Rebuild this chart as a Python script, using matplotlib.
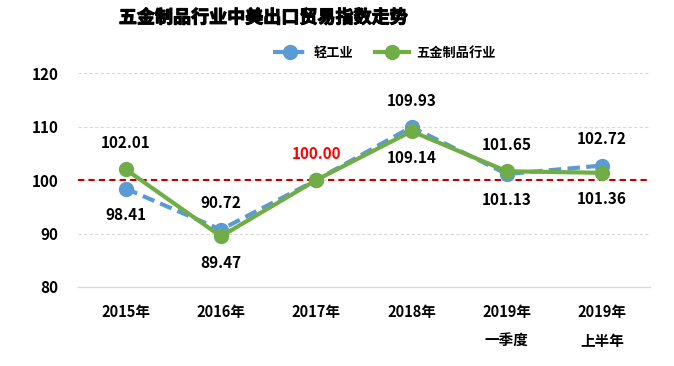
import matplotlib
matplotlib.use('Agg')
import matplotlib.pyplot as plt
import matplotlib.patheffects as pe

plt.rcParams['font.family'] = ['Noto Sans CJK SC', 'DejaVu Sans']
plt.rcParams['font.weight'] = 'bold'

categories = ['2015年', '2016年', '2017年', '2018年', '2019年\n一季度', '2019年\n上半年']
light = [98.41, 90.72, 100.00, 109.93, 101.13, 102.72]
hardware = [102.01, 89.47, 100.00, 109.14, 101.65, 101.36]
yticks = [80, 90, 100, 110, 120]

fig = plt.figure(figsize=(6.74, 3.66), dpi=100)
ax = fig.add_axes([0.1157, 0.216, 0.8483, 0.584])

x = list(range(len(categories)))
ax.plot(x, light, color='#5B9BD5', lw=3, ls=(0, (3, 1.5)), marker='o', ms=10,
        label='轻工业', zorder=3)
ax.plot(x, hardware, color='#70AD47', lw=3, marker='o', ms=10,
        label='五金制品行业', zorder=4)
ax.axhline(100, color='#C00000', lw=1.5, ls=(0, (3, 2)), zorder=2)

# data labels: higher value above, lower below
for i in x:
    a, b = light[i], hardware[i]
    if a == b:
        ax.annotate('%.2f' % a, (i, a), xytext=(0, 19), textcoords='offset points',
                    ha='center', va='center', fontsize=11, fontweight='bold', color='#FF0000')
        continue
    hi, lo = max(a, b), min(a, b)
    ax.annotate('%.2f' % hi, (i, hi), xytext=(0, 19), textcoords='offset points',
                ha='center', va='center', fontsize=11, fontweight='bold')
    ax.annotate('%.2f' % lo, (i, lo), xytext=(0, -19), textcoords='offset points',
                ha='center', va='center', fontsize=11, fontweight='bold')

ax.set_xlim(-0.5, len(categories) - 0.5)
ax.set_ylim(80, 120)
ax.set_yticks(yticks)
ax.set_xticks(x)
ax.set_xticklabels(categories, fontsize=10.5, fontweight='bold', linespacing=2.0)
ax.tick_params(axis='x', length=0, pad=12)
ax.tick_params(axis='y', length=0, pad=14, labelsize=11)
for lab in ax.get_yticklabels():
    lab.set_fontweight('bold')

ax.grid(axis='y', color='#D9D9D9', ls=(0, (3, 2)), lw=0.8)
for s in ['top', 'right', 'left']:
    ax.spines[s].set_visible(False)
ax.spines['bottom'].set_color('#D9D9D9')
ax.spines['bottom'].set_linewidth(1)

title = fig.text(0.39, 0.952, '五金制品行业中美出口贸易指数走势', ha='center', va='center',
                 fontsize=13, fontweight='heavy')
title.set_path_effects([pe.withStroke(linewidth=0.8, foreground='black')])
fig.legend(loc='center', bbox_to_anchor=(0.57, 0.855), ncol=2, frameon=False,
           handlelength=2.6, columnspacing=1.6, handletextpad=0.5,
           prop={'weight': 'bold', 'size': 9.5})

fig.savefig('out.png', dpi=100)
